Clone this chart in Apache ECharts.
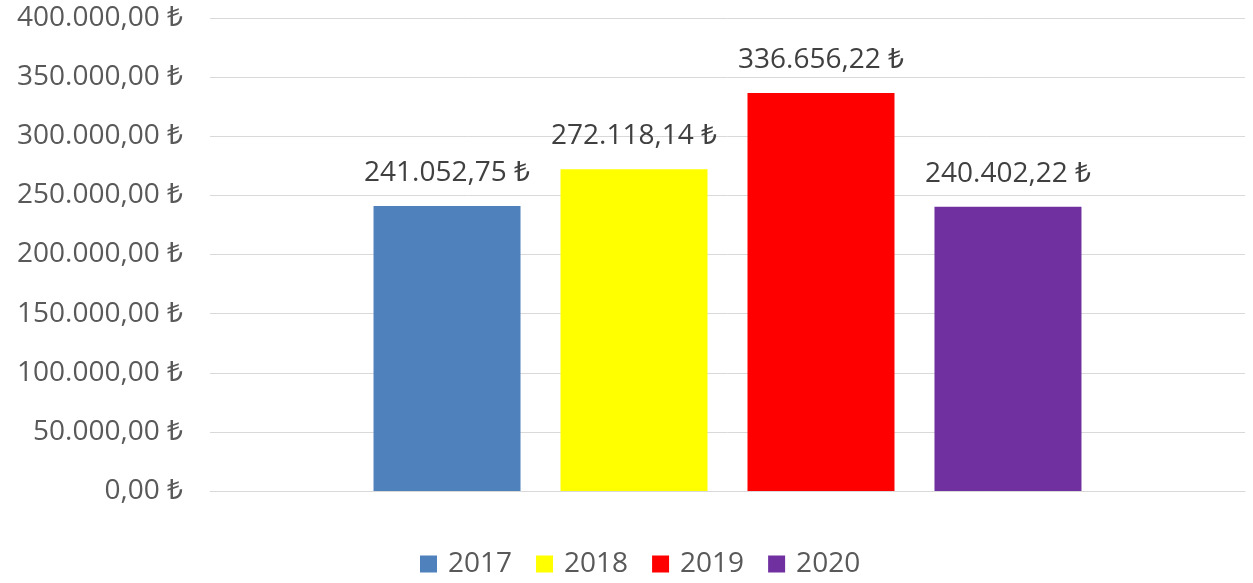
<!DOCTYPE html>
<html>
<head>
<meta charset="utf-8">
<script src="https://cdn.jsdelivr.net/npm/echarts@6/dist/echarts.min.js"></script>
<style>html,body{margin:0;padding:0;background:#fff}#c{width:1253px;height:583px}</style>
</head>
<body>
<div id="c"></div>
<script>
const categories = [''];
const seriesNames = ['2017', '2018', '2019', '2020'];
const seriesValues = [241052.75, 272118.14, 336656.22, 240402.22];
const seriesColors = ['#4F81BD', '#FFFF00', '#FF0000', '#7030A0'];
const yTicks = { min: 0, max: 400000, interval: 50000 };

function fmtTL(v) {
  const fixed = Number(v).toFixed(2);
  const [intPart, dec] = fixed.split('.');
  const withDots = intPart.replace(/\B(?=(\d{3})+(?!\d))/g, '.');
  return withDots + ',' + dec + ' ₺';
}

const FONT = "'Open Sans', 'Noto Sans', 'DejaVu Sans', sans-serif";
const chart = echarts.init(document.getElementById('c'), null, { renderer: 'canvas' });
chart.setOption({
  animation: false,
  backgroundColor: '#fff',
  grid: { left: 210, right: 8, top: 18, bottom: 92, containLabel: false },
  legend: {
    data: seriesNames,
    top: 550,
    left: 420,
    padding: 0,
    itemWidth: 17,
    itemHeight: 17,
    itemGap: 24,
    icon: 'rect',
    textStyle: { fontFamily: FONT, fontSize: 28, color: '#595959', padding: [0, 0, 0, 6] }
  },
  xAxis: {
    type: 'category',
    data: categories,
    axisLine: { show: true, lineStyle: { color: '#D9D9D9', width: 1 } },
    axisTick: { show: false },
    axisLabel: { show: false }
  },
  yAxis: {
    type: 'value',
    min: yTicks.min,
    max: yTicks.max,
    interval: yTicks.interval,
    axisLine: { show: false },
    axisTick: { show: false },
    splitLine: { lineStyle: { color: '#D9D9D9', width: 1 } },
    axisLabel: { formatter: fmtTL, fontFamily: FONT, fontSize: 28, color: '#595959', margin: 27 }
  },
  series: seriesNames.map((n, i) => ({
    name: n,
    type: 'bar',
    data: [seriesValues[i]],
    barWidth: 147,
    barGap: '27.2%',
    itemStyle: { color: seriesColors[i] },
    label: {
      show: true,
      position: 'top',
      distance: 19,
      formatter: p => fmtTL(p.value),
      fontFamily: FONT,
      fontSize: 28,
      color: '#404040'
    }
  }))
});
</script>
</body>
</html>
